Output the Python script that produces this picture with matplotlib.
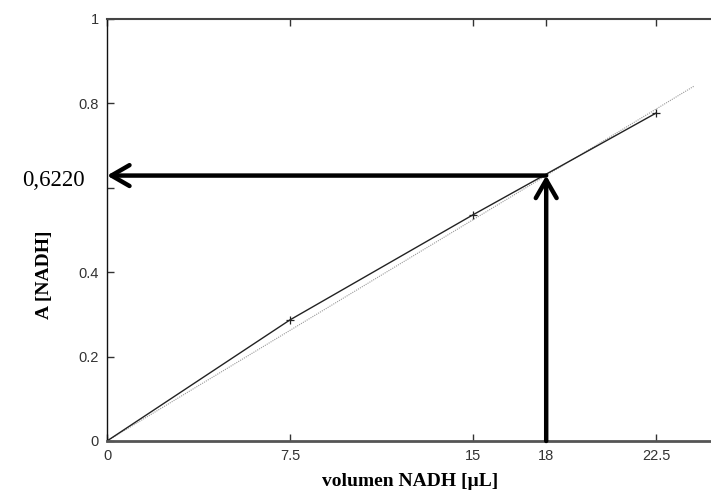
import matplotlib
matplotlib.use("Agg")
import matplotlib.pyplot as plt
import numpy as np

# Data
volumes = [0, 7.5, 15, 22.5]
absorb = [0, 0.287, 0.536, 0.777]
fit_x = [0, 24.06]
fit_y = [0, 0.841]
x_ticks = [0, 7.5, 15, 18, 22.5]
x_tick_labels = ["0", "7.5", "15", "18", "22.5"]
y_ticks = [0, 0.2, 0.4, 0.6, 0.8, 1.0]
y_tick_labels = ["0", "0.2", "0.4", "", "0.8", "1"]
target_x = 18
target_y = 0.629
target_label = "0,6220"

fig = plt.figure(figsize=(7.11, 4.95), dpi=100)
ax = fig.add_axes([107/711, 54/495, 610/711, 422/495])

ax.plot(fit_x, fit_y, linestyle=(0, (1, 1)), color="#999999", lw=0.8)
ax.plot(volumes, absorb, color="#222222", lw=1.0, marker="+", ms=6, mew=0.9)

ax.set_xlim(0, 25)
ax.set_ylim(0, 1)
ax.set_xticks(x_ticks)
ax.set_xticklabels(x_tick_labels)
ax.set_yticks(y_ticks)
ax.set_yticklabels(y_tick_labels)
ax.tick_params(direction="in", length=5, width=1, top=True, right=False,
               labelsize=10.5, labelcolor="#333333", color="#333333", pad=6)
for lab in ax.get_xticklabels() + ax.get_yticklabels():
    lab.set_family("Liberation Sans")
ax.spines["right"].set_visible(False)
ax.spines["left"].set_color("#111111")
ax.spines["left"].set_linewidth(1.0)
ax.spines["top"].set_color("#444444")
ax.spines["top"].set_linewidth(1.5)
ax.spines["bottom"].set_color("#555555")
ax.spines["bottom"].set_linewidth(2.0)

fig.text(410/711, 1 - 482/495, "volumen NADH [µL]", family="Liberation Serif",
         fontweight="bold", fontsize=14, ha="center", va="center")
fig.text(45/711, 1 - 275/495, "A [NADH]", family="Liberation Serif", fontweight="bold",
         fontsize=14, rotation=90, ha="center", va="center")

arrow_kw = dict(arrowstyle="->,head_length=1.3,head_width=0.75", lw=3.2, color="black",
                shrinkA=0, shrinkB=0)
ax.annotate("", xy=(0, target_y), xytext=(target_x, target_y), arrowprops=arrow_kw,
            annotation_clip=False)
ax.annotate("", xy=(target_x, target_y), xytext=(target_x, 0), arrowprops=arrow_kw,
            annotation_clip=False)

fig.text(53/711, 1 - 180/495, target_label, family="Liberation Serif", fontsize=16.5,
         ha="center", va="center")

fig.savefig("out.png", dpi=100)
